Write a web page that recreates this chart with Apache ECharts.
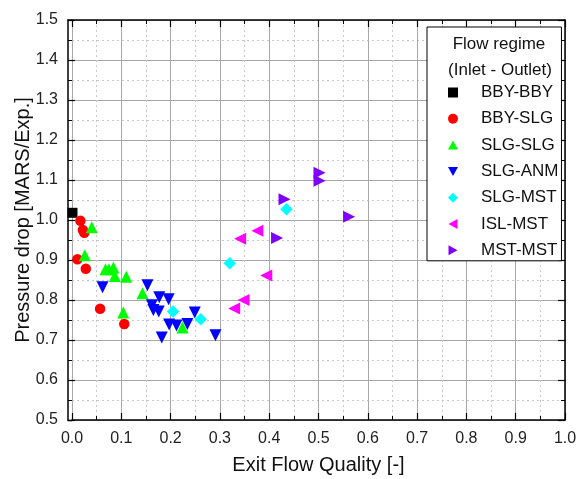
<!DOCTYPE html>
<html><head><meta charset="utf-8">
<script src="https://cdn.jsdelivr.net/npm/echarts@6/dist/echarts.min.js"></script>
<style>html,body{margin:0;padding:0;background:#fff}#c{width:580px;height:479px}</style>
</head><body><div id="c"></div>
<script>
var xTicks = [0,0.1,0.2,0.3,0.4,0.5,0.6,0.7,0.8,0.9,1.0];
var yTicks = [0.5,0.6,0.7,0.8,0.9,1.0,1.1,1.2,1.3,1.4,1.5];
var seriesNames = ['BBY-BBY','BBY-SLG','SLG-SLG','SLG-ANM','SLG-MST','ISL-MST','MST-MST'];
var bbyBby = [[0.001,1.018]];
var bbySlg = [[0.017,0.998],[0.022,0.975],[0.025,0.968],[0.011,0.902],[0.028,0.878],[0.057,0.778],[0.106,0.740]];
var slgSlg = [[0.040,0.982],[0.026,0.912],[0.068,0.877],[0.075,0.877],[0.084,0.881],[0.087,0.860],[0.110,0.858],[0.104,0.769],[0.143,0.817],[0.224,0.731]];
var slgAnm = [[0.062,0.832],[0.153,0.837],[0.177,0.807],[0.196,0.802],[0.162,0.787],[0.165,0.775],[0.176,0.771],[0.249,0.769],[0.197,0.739],[0.212,0.736],[0.234,0.740],[0.182,0.706],[0.291,0.712]];
var slgMst = [[0.205,0.771],[0.261,0.752],[0.320,0.892],[0.435,1.027]];
var islMst = [[0.394,0.861],[0.348,0.800],[0.329,0.779],[0.376,0.973],[0.341,0.953]];
var mstMst = [[0.502,1.118],[0.502,1.098],[0.431,1.052],[0.416,0.955],[0.562,1.008]];

var FONT = 'Liberation Sans';
var TRI_UP = 'path://M5,0L10,9L0,9Z';
var TRI_DOWN = 'path://M0,0L10,0L5,9Z';
var TRI_LEFT = 'path://M9,0L9,10L0,5Z';
var TRI_RIGHT = 'path://M0,0L9,5L0,10Z';
var chart = echarts.init(document.getElementById('c'), null, {renderer:'canvas'});
function sc(name, data, symbol, size, color){
  return {name:name, type:'scatter', data:data, symbol:symbol, symbolSize:size,
    itemStyle:{color:color, opacity:1}, xAxisIndex:0, yAxisIndex:0, z:5};
}
var axisCommon = {
  min:0, max:1, interval:0.1,
  axisLine:{show:true, onZero:false, lineStyle:{color:'#000', width:1.5}},
  axisTick:{show:true, inside:true, length:7, lineStyle:{color:'#000', width:1.2}},
  minorTick:{show:true, splitNumber:2, length:4, lineStyle:{color:'#000', width:1}}
};
chart.setOption({
  animation:false,
  textStyle:{fontFamily:FONT},
  grid:{left:72, right:15, top:20, bottom:59, containLabel:false, outerBoundsMode:'none'},
  xAxis:[
    Object.assign({}, axisCommon, {type:'value', position:'bottom',
      name:'Exit Flow Quality [-]', nameLocation:'middle', nameGap:35,
      nameTextStyle:{fontSize:20, color:'#111', fontFamily:FONT},
      axisLabel:{fontSize:16, color:'#222', margin:11, fontFamily:FONT,
        formatter:function(v){return v.toFixed(1);}},
      splitLine:{show:true, lineStyle:{color:'#a8a8a8', width:1}},
      minorSplitLine:{show:true, lineStyle:{color:'#c8c8c8', width:1, type:[2,3]}}
    }),
    Object.assign({}, axisCommon, {type:'value', position:'top', axisLabel:{show:false}, splitLine:{show:false}})
  ],
  yAxis:[
    Object.assign({}, axisCommon, {type:'value', min:0.5, max:1.5, interval:0.1, position:'left', offset:4,
      name:'Pressure drop [MARS/Exp.]', nameLocation:'middle', nameGap:35, nameMoveOverlap:false,
      nameTextStyle:{fontSize:20, color:'#111', fontFamily:FONT},
      axisLabel:{fontSize:16, color:'#222', margin:10, fontFamily:FONT,
        formatter:function(v){return v.toFixed(1);}},
      splitLine:{show:true, lineStyle:{color:'#a8a8a8', width:1}},
      minorSplitLine:{show:true, lineStyle:{color:'#c8c8c8', width:1, type:[2,3]}}
    }),
    Object.assign({}, axisCommon, {type:'value', min:0.5, max:1.5, interval:0.1, position:'right', axisLabel:{show:false}, splitLine:{show:false}})
  ],
  legend:{
    orient:'vertical', left:427, top:27,
    padding:[57, 3, 2, 21],
    itemWidth:10, itemHeight:10, itemGap:9.3,
    backgroundColor:'#fff', borderColor:'#000', borderWidth:1,
    textStyle:{fontSize:17, color:'#111', fontFamily:FONT, padding:[0,0,0,18]},
    data:seriesNames, z:10
  },
  graphic:[
    {type:'text', z:100, style:{text:'Flow regime', x:499, y:44, textAlign:'center', textVerticalAlign:'middle', fontSize:17, fontFamily:FONT, fill:'#111'}},
    {type:'text', z:100, style:{text:'(Inlet - Outlet)', x:500, y:70, textAlign:'center', textVerticalAlign:'middle', fontSize:17, fontFamily:FONT, fill:'#111'}},
    {type:'line', z:100, shape:{x1:67.5, y1:420.5, x2:72, y2:420.5}, style:{stroke:'#000', lineWidth:1.5}},
    {type:'line', z:100, shape:{x1:67.5, y1:20, x2:72, y2:20}, style:{stroke:'#000', lineWidth:1.5}}
  ],
  series:[
    sc(seriesNames[0], bbyBby, 'rect', 10, '#000000'),
    sc(seriesNames[1], bbySlg, 'circle', 10.5, '#ff0000'),
    sc(seriesNames[2], slgSlg, TRI_UP, 12, '#00ff00'),
    sc(seriesNames[3], slgAnm, TRI_DOWN, 12, '#0000ff'),
    sc(seriesNames[4], slgMst, 'diamond', 12.5, '#00ffff'),
    sc(seriesNames[5], islMst, TRI_LEFT, 12, '#ff00ff'),
    sc(seriesNames[6], mstMst, TRI_RIGHT, 12, '#8000ff')
  ]
});
</script></body></html>
